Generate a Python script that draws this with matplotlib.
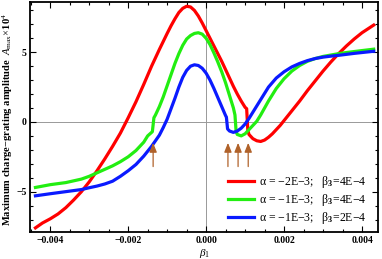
import numpy as np
import matplotlib
matplotlib.use('Agg')
import matplotlib.pyplot as plt
from matplotlib.ticker import MultipleLocator

# values (beta_1, A_max x 1e4)
red_x = [-0.00438, -0.0042, -0.004, -0.0038, -0.0036, -0.0034, -0.0032, -0.003, -0.0028,
         -0.0026, -0.0024, -0.0022, -0.002, -0.0018, -0.0016, -0.0014, -0.0012, -0.001,
         -0.0009, -0.0008, -0.0007, -0.0006, -0.0005, -0.0004, -0.0003, -0.0002, -0.0001,
         0.0, 0.0001, 0.0002, 0.0003, 0.0004, 0.0005, 0.0006, 0.0007, 0.0008, 0.0009,
         0.001, 0.00104, 0.00107, 0.0011, 0.0012, 0.0013, 0.0014, 0.0015, 0.0016, 0.0017,
         0.0018, 0.0019, 0.002, 0.0022, 0.0024, 0.0026, 0.0028, 0.003, 0.0032, 0.0034,
         0.0036, 0.0038, 0.004, 0.0043]
red_y = [-7.6, -7.25, -6.95, -6.6, -6.15, -5.6, -5.0, -4.3, -3.5,
         -2.65, -1.75, -0.8, 0.3, 1.45, 2.7, 4.0, 5.2, 6.35,
         6.9, 7.4, 7.85, 8.15, 8.3, 8.25, 8.0, 7.6, 7.1,
         6.55, 6.0, 5.45, 4.9, 4.35, 3.75, 3.15, 2.55, 2.0, 1.5,
         1.05, 0.95, -0.6, -0.9, -1.2, -1.35, -1.4, -1.3, -1.1, -0.85,
         -0.55, -0.25, 0.1, 0.8, 1.5, 2.25, 2.95, 3.65, 4.3, 4.9,
         5.45, 5.95, 6.4, 6.95]

green_x = [-0.00438, -0.004, -0.0036, -0.0032, -0.003, -0.0028, -0.0026, -0.0024, -0.0022,
           -0.002, -0.0018, -0.0016, -0.0015, -0.00138, -0.00134, -0.0013, -0.0012, -0.0011,
           -0.001, -0.0009, -0.0008, -0.0007, -0.0006, -0.0005, -0.0004, -0.0003, -0.0002,
           -0.0001, 0.0, 0.0001, 0.0002, 0.0003, 0.0004, 0.0005, 0.0006, 0.0007, 0.00074,
           0.00077, 0.0008, 0.0009, 0.001, 0.0011, 0.0012, 0.0013, 0.0014, 0.0015, 0.0016,
           0.0018, 0.002, 0.0022, 0.0024, 0.0026, 0.0028, 0.003, 0.0032, 0.0034, 0.0036,
           0.0038, 0.004, 0.0043]
green_y = [-4.7, -4.5, -4.35, -4.1, -3.9, -3.65, -3.4, -3.15, -2.85,
           -2.5, -2.05, -1.45, -1.0, -0.7, 0.3, 0.5, 1.1, 1.8,
           2.6, 3.4, 4.2, 4.9, 5.5, 5.95, 6.2, 6.35, 6.4,
           6.3, 6.0, 5.55, 4.95, 4.3, 3.6, 2.8, 1.9, 1.0, 0.5,
           -0.7, -0.9, -1.0, -0.85, -0.55, -0.25, 0.05, 0.5, 1.0, 1.5,
           2.4, 3.1, 3.65, 4.05, 4.35, 4.55, 4.7, 4.8, 4.9, 4.98,
           5.05, 5.12, 5.22]

blue_x = [-0.00438, -0.004, -0.0036, -0.0032, -0.003, -0.0028, -0.0026, -0.0024, -0.0022,
          -0.002, -0.0018, -0.0016, -0.0014, -0.0012, -0.0011, -0.001, -0.0009, -0.0008,
          -0.0007, -0.0006, -0.0005, -0.0004, -0.0003, -0.0002, -0.0001, 0.0, 0.0001,
          0.0002, 0.0003, 0.0004, 0.0005, 0.00052, 0.00055, 0.0006, 0.0007, 0.0008, 0.0009,
          0.001, 0.0011, 0.0012, 0.0014, 0.0016, 0.0018, 0.002, 0.0022, 0.0024, 0.0026,
          0.0028, 0.003, 0.0032, 0.0034, 0.0036, 0.0038, 0.004, 0.0043]
blue_y = [-5.3, -5.15, -5.0, -4.85, -4.72, -4.6, -4.45, -4.25, -3.9,
          -3.5, -3.05, -2.45, -1.75, -0.95, -0.4, 0.2, 0.95, 1.7,
          2.5, 3.2, 3.7, 4.0, 4.1, 4.05, 3.85, 3.5, 3.0,
          2.4, 1.75, 1.1, 0.45, 0.35, -0.5, -0.65, -0.75, -0.65, -0.45,
          -0.15, 0.25, 0.7, 1.6, 2.5, 3.15, 3.6, 3.95, 4.2, 4.4,
          4.55, 4.65, 4.72, 4.78, 4.85, 4.92, 4.98, 5.07]

arrow_x = [-0.00136, 0.00056, 0.00082, 0.00108]
arrow_tail, arrow_tip = -3.4, -1.3

labels = ['\u03b1 = \u22122E\u22123;   \u03b2$_{\\mathbf{3}}$=4E\u22124',
          '\u03b1 = \u22121E\u22123;   \u03b2$_{\\mathbf{3}}$=4E\u22124',
          '\u03b1 = \u22121E\u22123;   \u03b2$_{\\mathbf{3}}$=2E\u22124']
colors = ['#ff0000', '#22ee11', '#0a1aff']

plt.rcParams['font.family'] = ['Liberation Serif', 'DejaVu Serif']
plt.rcParams['mathtext.fontset'] = 'custom'
plt.rcParams['mathtext.rm'] = 'Liberation Serif'
plt.rcParams['mathtext.it'] = 'Liberation Serif:italic'
plt.rcParams['mathtext.bf'] = 'Liberation Serif:bold'

fig = plt.figure(figsize=(3.82, 2.59), dpi=100)
ax = fig.add_axes([0.0785, 0.104, 0.912, 0.888])

ax.axhline(0, color='#999999', lw=0.7, zorder=1)
ax.axvline(0, color='#999999', lw=0.7, zorder=1)

for xs, ys, c, lab in zip([red_x, green_x, blue_x], [red_y, green_y, blue_y], colors, labels):
    ax.plot(xs, ys, color=c, lw=2.3, label=lab, zorder=3, solid_joinstyle='round')

for xa in arrow_x:
    ax.annotate('', xy=(xa, arrow_tip), xytext=(xa, arrow_tail),
                arrowprops=dict(arrowstyle='-|>,head_width=0.22,head_length=0.55',
                                color='#b0622a', lw=0.9), zorder=4)

ax.set_xlim(-0.00452, 0.00442)
ax.set_ylim(-7.9, 8.6)
ax.xaxis.set_major_locator(MultipleLocator(0.002))
ax.xaxis.set_minor_locator(MultipleLocator(0.0005))
ax.yaxis.set_major_locator(MultipleLocator(5))
ax.yaxis.set_minor_locator(MultipleLocator(1))
ax.tick_params(which='both', direction='in', top=True, right=True, width=0.8)
ax.tick_params(which='major', length=4, labelsize=7, pad=3)
ax.tick_params(axis='y', which='major', pad=2.5)
ax.tick_params(which='minor', length=2)
ax.set_xticks([-0.004, -0.002, 0.0, 0.002, 0.004])
ax.set_xticklabels(['\u22120.004', '\u22120.002', '0.000', '0.002', '0.004'], fontweight='bold')
ax.set_yticks([-5, 0, 5])
ax.set_yticklabels(['\u22125', '0', '5'], fontweight='bold')
for s in ax.spines.values():
    s.set_linewidth(1.3)

ax.set_xlabel(r'$\beta_1$', fontsize=8, labelpad=1)
ax.set_ylabel(r'Maximum charge$-$grating amplitude  $A_{\rm max}$$\times$10$^4$',
              fontsize=7.6, fontweight='bold')
ax.yaxis.set_label_coords(-0.044, 0.49)

ax.legend(loc='lower right', frameon=False, fontsize=8.5, handlelength=2.2,
          handletextpad=0.4, labelspacing=0.18, borderaxespad=0, borderpad=0,
          bbox_to_anchor=(0.965, 0.025))

fig.savefig('out.png', dpi=100)
